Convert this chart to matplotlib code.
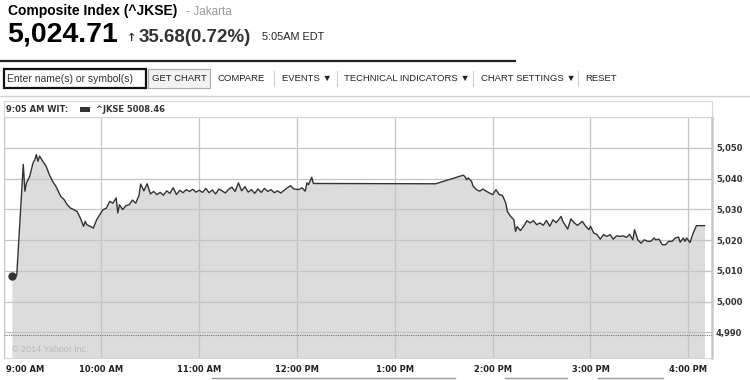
import matplotlib
matplotlib.use("Agg")
import matplotlib.pyplot as plt
from matplotlib.lines import Line2D
from matplotlib.patches import Rectangle
from matplotlib.transforms import ScaledTranslation

# ---------------- data ----------------
times = ["09:05","09:08","09:12","09:13","09:14","09:16","09:18","09:19","09:20","09:21",
         "09:22","09:24","09:26","09:28","09:30","09:32","09:35","09:37","09:39","09:41",
         "09:43","09:45","09:47","09:49","09:50","09:51","09:53","09:55","09:57","09:59",
         "10:01","10:03","10:05","10:07","10:09","10:10","10:11","10:13","10:15","10:17",
         "10:19","10:21","10:23","10:24","10:26","10:28","10:30","10:32","10:34","10:36",
         "10:38","10:40","10:42","10:44","10:46","10:48","10:50","10:52","10:54","10:56",
         "10:58","11:00","11:02","11:04","11:06","11:08","11:10","11:12","11:14","11:16",
         "11:18","11:20","11:22","11:24","11:26","11:28","11:30","11:32","11:34","11:36",
         "11:38","11:40","11:42","11:44","11:46","11:48","11:50","11:54","11:56","11:58",
         "12:01","12:03","12:05","12:06","12:07","12:09","12:10","13:25","13:42","13:43",
         "13:44","13:45","13:47","13:48","13:50","13:52","13:54","13:56","13:58","14:00",
         "14:02","14:04","14:06","14:08","14:09","14:11","14:13","14:14","14:15","14:17",
         "14:19","14:21","14:23","14:25","14:27","14:29","14:31","14:33","14:35","14:37",
         "14:39","14:42","14:43","14:46","14:48","14:50","14:52","14:55","14:57","14:59",
         "15:00","15:02","15:04","15:06","15:08","15:10","15:12","15:14","15:16","15:18",
         "15:20","15:22","15:24","15:26","15:27","15:29","15:31","15:33","15:35","15:37",
         "15:39","15:40","15:42","15:44","15:46","15:48","15:50","15:52","15:54","15:55",
         "15:57","15:58","15:59","16:01","16:03","16:05","16:10"]
values = [5008.46,5008.5,5044.6,5035.9,5038.6,5040.8,5045.1,5046.0,5047.8,5045.6,
          5047.3,5045.6,5044.0,5041.3,5039.1,5037.5,5034.2,5033.2,5031.5,5030.4,
          5029.9,5029.3,5027.2,5024.5,5026.1,5025.0,5024.5,5023.9,5026.6,5028.3,
          5029.9,5030.4,5032.6,5032.0,5033.7,5028.8,5031.5,5029.9,5031.2,5031.5,
          5033.0,5032.0,5034.5,5038.2,5036.0,5038.3,5035.0,5035.8,5034.8,5035.5,
          5034.6,5036.0,5035.2,5037.0,5034.8,5036.2,5035.4,5036.4,5035.8,5036.5,
          5035.6,5036.2,5035.5,5036.8,5035.4,5036.3,5035.0,5036.6,5036.0,5035.3,
          5036.5,5037.2,5035.8,5038.6,5036.0,5037.4,5035.6,5036.4,5035.2,5036.6,
          5035.5,5036.8,5035.8,5036.4,5035.4,5036.0,5035.3,5037.0,5037.7,5036.6,
          5036.4,5037.0,5035.9,5038.6,5038.0,5040.4,5038.4,5038.3,5041.1,5040.6,
          5039.6,5040.2,5039.1,5037.5,5036.4,5035.9,5036.6,5035.9,5035.3,5034.8,
          5036.4,5034.8,5034.5,5032.1,5029.3,5027.7,5026.6,5022.8,5024.4,5023.1,
          5024.5,5026.3,5025.6,5026.3,5025.0,5025.6,5024.8,5026.4,5024.5,5026.6,
          5025.7,5027.7,5026.1,5023.6,5026.9,5025.6,5024.8,5026.1,5024.5,5023.4,
          5024.5,5022.3,5021.8,5020.3,5021.8,5021.2,5021.8,5020.3,5021.4,5021.2,
          5021.4,5020.9,5021.8,5020.1,5023.4,5020.1,5019.0,5020.1,5019.6,5019.6,
          5020.7,5020.1,5020.3,5018.5,5018.5,5019.6,5019.6,5020.7,5021.0,5019.3,
          5020.7,5019.6,5020.7,5019.2,5022.3,5024.7,5024.7]
prev_close = 4989.03
hour_labels = ["9:00 AM", "10:00 AM", "11:00 AM", "12:00 PM", "1:00 PM", "2:00 PM", "3:00 PM", "4:00 PM"]
y_ticks = [4990, 5000, 5010, 5020, 5030, 5040, 5050]

assert len(times) == len(values)
mins = [(int(s[:2]) - 9) * 60 + int(s[3:]) for s in times]

W, H = 750, 380
def P(x, y):
    return x / W, 1 - y / H

LAB = dict(family="DejaVu Sans", weight="bold", fontsize=6.0)

fig = plt.figure(figsize=(7.5, 3.8), dpi=100)
fig.patch.set_facecolor("white")

# ---------------- header ----------------
fig.text(*P(8, 15), "Composite Index (^JKSE)", family="Liberation Sans", weight="bold",
         fontsize=10, color="#000", va="baseline")
fig.text(*P(183, 15), " - Jakarta", family="Liberation Sans", fontsize=8.5, color="#999", va="baseline")
fig.text(*P(7, 42), "5,024.71", family="Liberation Sans", weight="bold", fontsize=20.5,
         color="#000", va="baseline")
fig.text(*P(127, 41), "↑", family="DejaVu Sans", weight="bold", fontsize=8, color="#333", va="baseline")
fig.text(*P(139, 41.5), "35.68(0.72%)", family="Liberation Sans", weight="bold", fontsize=13.5,
         color="#333", va="baseline")
fig.text(*P(262, 40), "5:05AM EDT", family="Liberation Sans", fontsize=7.8, color="#222", va="baseline")
fig.add_artist(Line2D([0, 515 / W], [1 - 61 / H] * 2, color="#222", lw=1.6))

# ---------------- toolbar ----------------
fig.add_artist(Rectangle(P(4, 88), 142 / W, 19 / H, facecolor="white", edgecolor="#111", lw=1.6))
fig.text(*P(7, 78.5), "Enter name(s) or symbol(s)", family="Liberation Sans", fontsize=7.5,
         color="#333", va="center")
fig.add_artist(Rectangle(P(148, 88), 62 / W, 19 / H, facecolor="#f2f2f2", edgecolor="#aaa", lw=0.8))
fig.text(*P(179, 78.5), "GET CHART", family="Liberation Sans", fontsize=6.8, color="#222",
         va="center", ha="center")
menu = [("COMPARE", 218), ("EVENTS ▼", 282), ("TECHNICAL INDICATORS ▼", 344),
        ("CHART SETTINGS ▼", 481), ("RESET", 585)]
for label, x in menu:
    fig.text(*P(x, 78.5), label, family=["Liberation Sans", "DejaVu Sans"], fontsize=6.8,
             color="#222", va="center")
for x in [274, 337, 473, 578]:
    fig.add_artist(Line2D([x / W] * 2, [1 - 71 / H, 1 - 86 / H], color="#ccc", lw=0.8))
fig.add_artist(Line2D([0, 1], [1 - 96 / H] * 2, color="#d0d0d0", lw=1))

# ---------------- chart box / legend strip ----------------
fig.add_artist(Rectangle(P(4, 117), 707.7 / W, 16 / H, facecolor="white", edgecolor="#d6d6d6", lw=0.8))
fig.text(*P(6, 109), "9:05 AM WIT:", color="#333", va="center", **LAB)
fig.add_artist(Rectangle(P(80, 111.5), 10 / W, 4.5 / H, facecolor="#333", edgecolor="none"))
fig.text(*P(96, 109), "^JKSE 5008.46", color="#333", va="center", **LAB)

# ---------------- plot ----------------
x0, x1 = 3.7, 711.7
ax = fig.add_axes([x0 / W, 1 - 358 / H, (x1 - x0) / W, (358 - 117) / H])
ppm = 97.8 / 60.0
xmax = (x1 - x0) / ppm
ymin, ymax = 4981.7, 5060.0
ax.set_xlim(0, xmax)
ax.set_ylim(ymin, ymax)
ax.set_facecolor("white")

ax.fill_between(mins, values, ymin, color="#dcdcdc", lw=0, zorder=1)
ax.set_xticks([h * 60 for h in range(len(hour_labels))])
ax.set_yticks(y_ticks)
ax.grid(True, color="#c4c4c4", lw=0.9, zorder=2)
ax.set_axisbelow(False)
for gl in ax.get_xgridlines() + ax.get_ygridlines():
    gl.set_zorder(2)
ax.axhline(prev_close, color="#777", lw=0.8, ls=(0, (1, 1)), zorder=3)
ax.plot(mins, values, color="#333", lw=1.0, zorder=4, solid_joinstyle="round")
ax.plot(mins[0], values[0], "o", ms=5, color="#333", zorder=5)

ax.yaxis.tick_right()
ax.set_yticklabels([f"{v:,}" for v in y_ticks], color="#333", **LAB)
ax.set_xticklabels(hour_labels, color="#222", **LAB)
ax.tick_params(axis="both", length=0)
ax.tick_params(axis="y", pad=3)
ax.tick_params(axis="x", pad=5)
labs = ax.get_xticklabels()
labs[0].set_ha("left")
labs[0].set_transform(labs[0].get_transform() + ScaledTranslation(2 / 100, 0, fig.dpi_scale_trans))

for s in ["left", "top", "bottom"]:
    ax.spines[s].set_color("#d6d6d6")
    ax.spines[s].set_linewidth(0.8)
ax.spines["right"].set_color("#c8c8c8")
ax.spines["right"].set_linewidth(1.8)

ax.text(8 / (x1 - x0), 0.015, "© 2014 Yahoo! Inc.", transform=ax.transAxes, family="Liberation Sans",
        fontsize=6.5, color="#b8b8b8", va="bottom", ha="left", zorder=6)

# ---------------- bottom page lines ----------------
for a, b in [(212, 455), (505, 567), (598, 663)]:
    fig.add_artist(Line2D([a / W, b / W], [1 - 378 / H] * 2, color="#999", lw=1))

fig.savefig("out.png", dpi=100)
